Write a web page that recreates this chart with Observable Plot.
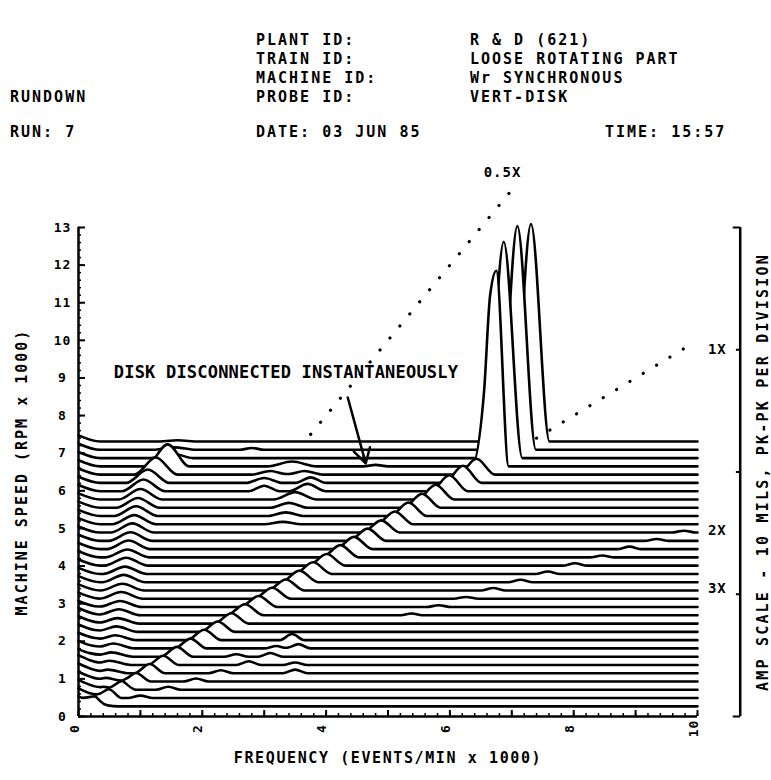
<!DOCTYPE html>
<html><head><meta charset="utf-8">
<script src="https://cdn.jsdelivr.net/npm/d3@7"></script>
<script src="https://cdn.jsdelivr.net/npm/@observablehq/plot@0.6"></script>
<style>
body{margin:0;background:#fff}
#wrap{position:relative;width:771px;height:780px;font-family:"DejaVu Sans Mono",monospace;font-weight:bold;color:#000}
.h{position:absolute;font-size:15px;line-height:15px;letter-spacing:2px;white-space:pre}
#chart{position:absolute;left:0;top:0}
</style></head>
<body><div id="wrap"><div id="chart"></div></div>
<script>
// ---- header texts ----
const headerLabels = ["PLANT ID:", "TRAIN ID:", "MACHINE ID:", "PROBE ID:"];
const headerValues = ["R & D (621)", "LOOSE ROTATING PART", "Wr SYNCHRONOUS", "VERT-DISK"];
const runTitle = "RUNDOWN";
const runText = "RUN: 7";
const dateText = "DATE: 03 JUN 85";
const timeText = "TIME: 15:57";

// ---- axes ----
const xTickLabels = [0, 2, 4, 6, 8, 10];
const yTickLabels = [0,1,2,3,4,5,6,7,8,9,10,11,12,13];
const xTitle = "FREQUENCY (EVENTS/MIN x 1000)";
const yTitle = "MACHINE SPEED (RPM x 1000)";
const ampTitle = "AMP SCALE - 10 MILS, PK-PK PER DIVISION";
const ampDivisionsMils = [0, 10, 20, 30, 40];

// ---- spectra: one trace per machine speed (rpm x 1000), back (top) to front ----
const rpm = [7.31, 7.09, 6.87, 6.65, 6.43, 6.21, 5.99, 5.77, 5.55, 5.33, 5.11, 4.89, 4.67, 4.45, 4.23, 4.01, 3.79, 3.57, 3.35, 3.13, 2.91, 2.69, 2.47, 2.25, 2.03, 1.81, 1.59, 1.37, 1.15, 0.93, 0.71, 0.49, 0.27];
// amplitude at 0 frequency (mils)
const dcAmp = [0.5,0.5,0.5,0.5,0.5,0.5,0.5,0.5,0.5,0.5,0.5,0.5,0.5,0.5,0.5,0.5,0.5,0.5,0.5,0.5,0.5,0.6,0.6,0.6,0.6,0.6,0.6,0.8,0.8,0.8,0.8,0.8,0.8];
// sub-synchronous component
const subFreq = [1.6,1.55,1.5,1.44,1.25,1.12,1.05,1.0,0.96,0.93,0.9,0.87,0.84,0.81,0.79,0.77,0.75,0.73,0.71,0.69,0.67,0.65,0.63,0.61,0.59,0.56,0.53,0.5,0.47,0.44,0.4,0.35,0.3];
const subAmp  = [0.1,0.2,0.4,1.8,1.4,1.1,0.95,0.85,0.8,0.8,0.75,0.75,0.7,0.7,0.65,0.65,0.6,0.6,0.55,0.55,0.5,0.5,0.45,0.45,0.4,0.4,0.35,0.35,0.3,0.3,0.25,0.2,0.15];
// running speed (1X) component
const oneXAmp  = [17.8,18.3,17.7,9.0,1.3,1.4,1.3,1.2,1.15,1.1,1.05,1.0,1.0,1.0,1.0,0.95,0.95,0.95,0.9,0.9,0.9,0.9,0.85,0.85,0.85,0.8,0.8,0.75,0.75,0.7,0.7,0.6,0.5];
const oneXHalf = [0.3,0.3,0.3,0.3,0.3,0.3,0.3,0.3,0.3,0.3,0.3,0.3,0.3,0.3,0.3,0.3,0.3,0.3,0.3,0.3,0.3,0.3,0.28,0.28,0.28,0.26,0.26,0.25,0.25,0.24,0.22,0.2,0.2];
// other peaks: [trace index, frequency, amplitude (mils), half width]
const extraPeaks = [
  [1, 2.8, 0.15, 0.2],
  [3, 6.75, 10.0, 0.2], [3, 3.45, 0.4, 0.4], [3, 4.8, 0.12, 0.2],
  [4, 3.1, 0.3, 0.3], [4, 3.65, 0.3, 0.3],
  [5, 3.0, 0.4, 0.3], [5, 3.75, 0.45, 0.25],
  [6, 3.0, 0.45, 0.25], [6, 3.7, 0.6, 0.3],
  [7, 3.5, 0.6, 0.35], [8, 3.4, 0.4, 0.3], [9, 3.35, 0.3, 0.3], [10, 3.3, 0.2, 0.3],
  [11, 9.78, 0.15, 0.2], [12, 9.34, 0.15, 0.2], [13, 8.9, 0.2, 0.2], [14, 8.46, 0.15, 0.2],
  [15, 8.02, 0.2, 0.2], [16, 7.58, 0.2, 0.2], [17, 7.14, 0.2, 0.2], [18, 6.7, 0.2, 0.2],
  [19, 6.26, 0.15, 0.2], [20, 5.82, 0.15, 0.2], [21, 5.38, 0.15, 0.2],
  [24, 3.45, 0.5, 0.2], [25, 3.55, 0.35, 0.2], [25, 3.2, 0.2, 0.2],
  [26, 3.1, 0.3, 0.2], [26, 2.55, 0.2, 0.2], [27, 2.75, 0.3, 0.2], [27, 3.5, 0.2, 0.2],
  [28, 2.3, 0.25, 0.2], [28, 3.5, 0.3, 0.2], [29, 1.9, 0.25, 0.2], [30, 1.45, 0.25, 0.2], [31, 1.0, 0.2, 0.2]
];

// ---- order lines (dotted) and labels ----
const orderNames = ["0.5X", "1X"];
const orderFreqStart = [3.75, 7.4];
const orderRpmStart = [7.5, 7.4];
const orderFreqEnd = [7.05, 9.8];
const orderRpmEnd = [14.1, 9.8];
const orderLabels = ["0.5X", "1X", "2X", "3X"];
const orderLabelFreq = [6.85, 10.32, 10.32, 10.32];
const orderLabelRpm = [14.45, 9.75, 4.95, 3.4];

// ---- annotation ----
const noteText = "DISK DISCONNECTED INSTANTANEOUSLY";
const noteFreq = 0.57, noteRpm = 9.15;
const arrowFrom = [4.35, 8.48], arrowTo = [4.64, 6.73];

// ---- header HTML ----
const wrap = document.getElementById("wrap");
function addText(t, left, top) {
  const d = document.createElement("div");
  d.className = "h"; d.textContent = t;
  d.style.left = left + "px"; d.style.top = top + "px";
  wrap.appendChild(d);
}
headerLabels.forEach((t, i) => addText(t, 256, 33 + i * 19));
headerValues.forEach((t, i) => addText(t, 470, 33 + i * 19));
addText(runTitle, 10, 90);
addText(runText, 10, 125);
addText(dateText, 256, 125);
addText(timeText, 605, 125);

// ---- build traces ----
const milsToRpm = 13 / (ampDivisionsMils.length - 1) / 10; // 10 mils per division
function tracePoints(k) {
  const peaks = [[0, dcAmp[k], 0.35], [subFreq[k], subAmp[k], 0.35], [rpm[k], oneXAmp[k], oneXHalf[k]],
    ...extraPeaks.filter(p => p[0] === k).map(p => p.slice(1))];
  const xs = new Set([0, 10]);
  for (const [f, a, w] of peaks) for (const x of [f - w, f, f + w]) if (x >= 0 && x <= 10) xs.add(+x.toFixed(4));
  return [...xs].sort((a, b) => a - b).map(x => ({
    f: x,
    v: rpm[k] + milsToRpm * d3.sum(peaks, ([f, a, w]) => Math.max(0, a * (1 - Math.abs(x - f) / w)))
  }));
}
const traceMarks = [];
rpm.forEach((r, k) => {
  const pts = tracePoints(k);
  traceMarks.push(Plot.areaY(pts, {x: "f", y1: 0, y2: "v", fill: "white", curve: "monotone-x"}));
  traceMarks.push(Plot.line(pts, {x: "f", y: "v", stroke: "black", strokeWidth: 2.6, strokeLinejoin: "round", curve: "monotone-x"}));
});

const xMinor = d3.range(0, 10.001, 0.2);
const xMajor = d3.range(0, 10.001, 1);
const yMinor = d3.range(0, 13.001, 0.2);
const yMajor = yTickLabels;
const frameH = 716 - 227, frameW = 697 - 78;
const bracketX = 10.69;

const chart = Plot.plot({
  width: 771, height: 780,
  marginLeft: 78, marginRight: 74, marginTop: 227, marginBottom: 64,
  x: {domain: [0, 10], axis: null},
  y: {domain: [0, 13], axis: null},
  style: {background: "white", fontFamily: "'DejaVu Sans Mono', monospace", fontWeight: "bold", color: "black"},
  marks: [
    ...traceMarks,
    // axes
    Plot.ruleX([0], {y1: 0, y2: 13, stroke: "black", strokeWidth: 2.5}),
    Plot.ruleY([0], {x1: 0, x2: 10, stroke: "black", strokeWidth: 2.5}),
    Plot.tickX(xMinor, {x: d => d, insetTop: frameH - 3, stroke: "black", strokeWidth: 1.5}),
    Plot.tickX(xMajor, {x: d => d, insetTop: frameH - 6, stroke: "black", strokeWidth: 2}),
    Plot.tickY(yMinor, {y: d => d, insetRight: frameW - 3, stroke: "black", strokeWidth: 1.5}),
    Plot.tickY(yMajor, {y: d => d, insetRight: frameW - 7, stroke: "black", strokeWidth: 2}),
    Plot.text(xTickLabels, {x: d => d, frameAnchor: "bottom", dy: 12, rotate: -90, textAnchor: "middle", text: d => String(d), fontSize: 13}),
    Plot.text(yTickLabels, {y: d => d, frameAnchor: "left", dx: -16, textAnchor: "middle", text: d => String(d), fontSize: 13}),
    // amplitude scale bracket
    Plot.ruleX([bracketX], {y1: 0, y2: 13, stroke: "black", strokeWidth: 2.5}),
    Plot.link(ampDivisionsMils, {
      x1: (d, i) => (i === 0 || i === ampDivisionsMils.length - 1) ? bracketX - 0.12 : bracketX - 0.07,
      x2: bracketX, y1: d => d * milsToRpm, y2: d => d * milsToRpm, stroke: "black", strokeWidth: 2
    }),
    // order lines
    Plot.link(orderNames, {
      x1: (d, i) => orderFreqStart[i], y1: (d, i) => orderRpmStart[i],
      x2: (d, i) => orderFreqEnd[i], y2: (d, i) => orderRpmEnd[i],
      stroke: "black", strokeWidth: 3.2, strokeLinecap: "round", strokeDasharray: "0.1 15.5"
    }),
    Plot.text(orderLabels, {x: (d, i) => orderLabelFreq[i], y: (d, i) => orderLabelRpm[i], text: d => d, fontSize: 14}),
    // annotation
    Plot.text([noteText], {x: noteFreq, y: noteRpm, text: d => d, textAnchor: "start", fontSize: 17}),
    Plot.arrow([0], {x1: arrowFrom[0], y1: arrowFrom[1], x2: arrowTo[0], y2: arrowTo[1], stroke: "black", strokeWidth: 2.5, headLength: 10}),
    // titles
    Plot.text([yTitle], {frameAnchor: "left", dx: -56, rotate: -90, textAnchor: "middle", text: d => d, fontSize: 15}),
    Plot.text([xTitle], {frameAnchor: "bottom", dy: 46, textAnchor: "middle", text: d => d, fontSize: 15}),
    Plot.text([ampTitle], {frameAnchor: "right", dx: 66, rotate: -90, textAnchor: "middle", text: d => d, fontSize: 15})
  ]
});
// letter spacing to imitate the plotter lettering
const spacing = new Map([[yTitle, "2px"], [xTitle, "1.6px"], [ampTitle, "2.2px"], [noteText, "0.2px"]]);
d3.select(chart).selectAll("text").each(function() {
  const s = spacing.get(this.textContent);
  this.style.letterSpacing = s || "1px";
});
document.getElementById("chart").appendChild(chart);
</script>
</body></html>
